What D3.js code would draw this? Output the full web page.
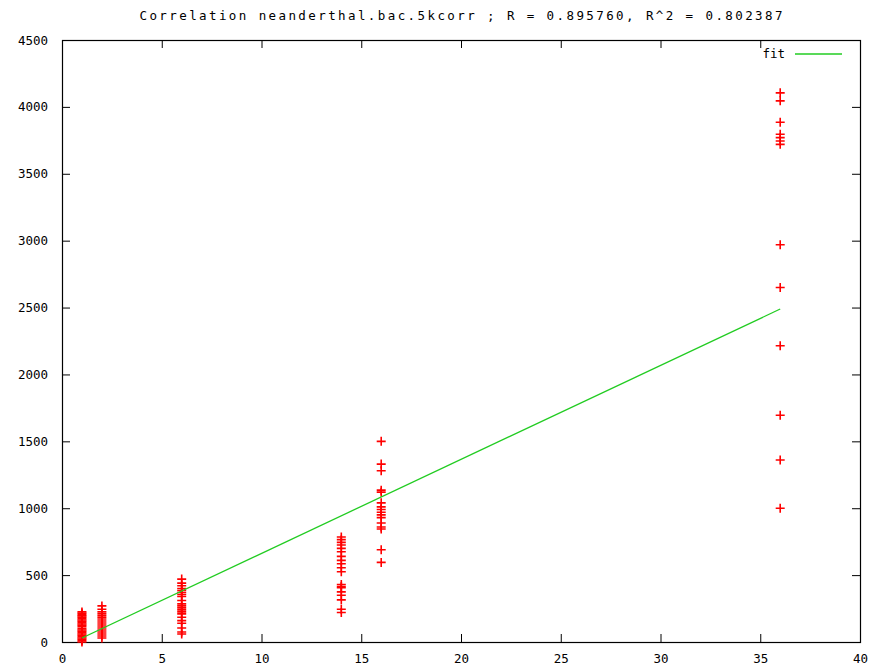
<!DOCTYPE html>
<html>
<head>
<meta charset="utf-8">
<script src="https://cdn.jsdelivr.net/npm/d3@7"></script>
<style>
  html, body { margin: 0; padding: 0; background: #fff; }
  svg { display: block; }
  text { font-family: "DejaVu Sans Mono", "Liberation Mono", monospace; fill: #000; }
</style>
</head>
<body>
<script>
// Correlation data: each column of points shares one x value.
const xValues = [1, 2, 6, 14, 16, 36];
const yAt1 = [225, 215, 205, 195, 185, 175, 165, 155, 145, 135, 125, 115, 100, 90, 80, 70, 60, 50, 40, 30, 20, 10, 0];
const yAt2 = [270, 245, 225, 210, 195, 180, 165, 150, 135, 120, 105, 90, 75, 60, 45, 30];
const yAt6 = [470, 440, 420, 400, 385, 370, 355, 340, 310, 285, 270, 255, 240, 225, 210, 185, 160, 140, 105, 75, 60];
const yAt14 = [785, 765, 745, 725, 700, 675, 640, 610, 585, 555, 525, 430, 415, 405, 375, 350, 315, 245, 220];
const yAt16 = [1500, 1330, 1280, 1135, 1120, 1040, 1010, 990, 970, 950, 930, 890, 860, 845, 690, 595];
const yAt36 = [4105, 4045, 3885, 3795, 3770, 3745, 3720, 2970, 2650, 2215, 1695, 1360, 1000];
const yColumns = [yAt1, yAt2, yAt6, yAt14, yAt16, yAt36];

// Linear fit endpoints
const fitX = [1, 36];
const fitY = [30, 2489];

const xTicks = [0, 5, 10, 15, 20, 25, 30, 35, 40];
const yTicks = [0, 500, 1000, 1500, 2000, 2500, 3000, 3500, 4000, 4500];
const title = "Correlation neanderthal.bac.5kcorr ; R = 0.895760, R^2 = 0.802387";

const W = 878, H = 668;
const margin = { left: 62, right: 18, top: 40, bottom: 26 };

const svg = d3.select("body").append("svg").attr("width", W).attr("height", H);

const x = d3.scaleLinear().domain([0, 40]).range([margin.left, W - margin.right]);
const y = d3.scaleLinear().domain([0, 4500]).range([H - margin.bottom, margin.top]);

const points = [];
xValues.forEach((xv, i) => yColumns[i].forEach(yv => points.push([xv, yv])));

// Title
svg.append("text")
  .attr("x", (margin.left + W - margin.right) / 2)
  .attr("y", 20)
  .attr("text-anchor", "middle")
  .attr("font-size", 12.5)
  .attr("textLength", 643)
  .attr("lengthAdjust", "spacing")
  .text(title);

const tickLen = 8;
const fmt = d3.format("d");

// Bottom axis (ticks point inward)
const axisB = svg.append("g").attr("transform", `translate(0,${y(0)})`)
  .call(d3.axisBottom(x).tickValues(xTicks).tickFormat(fmt).tickSizeInner(-tickLen).tickSizeOuter(0).tickPadding(12));
// Top axis, mirrored ticks without labels
const axisT = svg.append("g").attr("transform", `translate(0,${y(4500)})`)
  .call(d3.axisTop(x).tickValues(xTicks).tickSizeInner(-tickLen).tickSizeOuter(0).tickFormat(""));
// Left axis
const axisL = svg.append("g").attr("transform", `translate(${x(0)},0)`)
  .call(d3.axisLeft(y).tickValues(yTicks).tickFormat(fmt).tickSizeInner(-tickLen).tickSizeOuter(0).tickPadding(14));
// Right axis, mirrored ticks without labels
const axisR = svg.append("g").attr("transform", `translate(${x(40)},0)`)
  .call(d3.axisRight(y).tickValues(yTicks).tickSizeInner(-tickLen).tickSizeOuter(0).tickFormat(""));

[axisB, axisT, axisL, axisR].forEach(g => {
  g.select(".domain").remove();
  g.selectAll(".tick line").attr("stroke", "#000").attr("stroke-width", 1);
  g.selectAll(".tick text").attr("font-size", 12.5).attr("font-family", "DejaVu Sans Mono, monospace").attr("fill", "#000");
});
// Keep the edge ticks off the frame corners
axisB.selectAll(".tick").filter(d => d === 0 || d === 40).select("line").remove();
axisT.selectAll(".tick").filter(d => d === 0 || d === 40).select("line").remove();
axisL.selectAll(".tick").filter(d => d === 0 || d === 4500).select("line").remove();
axisR.selectAll(".tick").filter(d => d === 0 || d === 4500).select("line").remove();

// Frame
svg.append("rect")
  .attr("x", x(0) + 0.5).attr("y", y(4500) + 0.5)
  .attr("width", x(40) - x(0)).attr("height", y(0) - y(4500))
  .attr("fill", "none").attr("stroke", "#000").attr("stroke-width", 1.2);

// Data points as "+" markers
svg.append("g").selectAll("path")
  .data(points)
  .join("path")
  .attr("transform", d => `translate(${x(d[0])},${y(d[1])})`)
  .attr("d", "M-4.5,0H4.5M0,-4.5V4.5")
  .attr("stroke", "#ff0000")
  .attr("stroke-width", 1.6)
  .attr("fill", "none");

// Fit line
const line = d3.line().x(d => x(d[0])).y(d => y(d[1]));
svg.append("path")
  .datum(fitX.map((xv, i) => [xv, fitY[i]]))
  .attr("d", line)
  .attr("stroke", "#22cc22")
  .attr("stroke-width", 1.3)
  .attr("fill", "none");

// Legend
svg.append("text")
  .attr("x", 785).attr("y", 58)
  .attr("text-anchor", "end")
  .attr("font-size", 12.5)
  .text("fit");
svg.append("line")
  .attr("x1", 795).attr("x2", 842)
  .attr("y1", 54).attr("y2", 54)
  .attr("stroke", "#22cc22").attr("stroke-width", 1.3);
</script>
</body>
</html>
